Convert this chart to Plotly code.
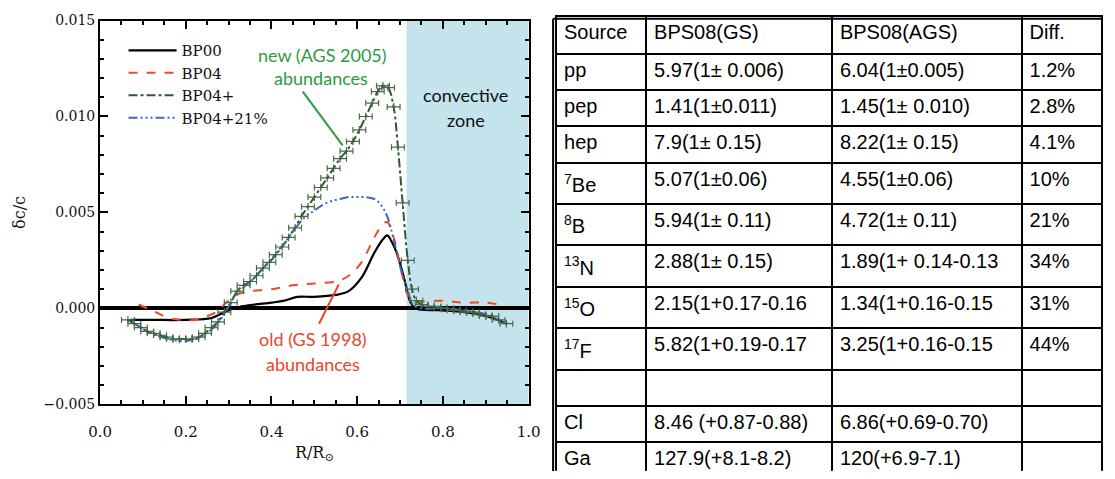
import plotly.graph_objects as go

# ---------------- data ----------------
bp00_x = [0.07, 0.12, 0.20, 0.26, 0.29, 0.31, 0.33, 0.36, 0.40, 0.43, 0.46, 0.50, 0.55, 0.58, 0.61,
          0.64, 0.66, 0.67, 0.68, 0.692, 0.708, 0.723, 0.735, 0.80, 0.85, 0.90, 0.95]
bp00_y = [-0.0006, -0.0006, -0.0006, -0.0005, -0.0002, 0.0000, 0.0001, 0.0002, 0.0003, 0.0004, 0.0006,
          0.0006, 0.0007, 0.0009, 0.0016, 0.0029, 0.0036, 0.0038, 0.0035, 0.0029, 0.0017, 0.0004,
          0.0000, -0.0001, -0.0002, -0.0004, -0.0008]

bp04_x = [0.09, 0.11, 0.13, 0.16, 0.19, 0.22, 0.25, 0.27, 0.29, 0.31, 0.33, 0.35, 0.40, 0.45, 0.50,
          0.55, 0.58, 0.61, 0.64, 0.66, 0.67, 0.685, 0.70, 0.71, 0.72, 0.73, 0.80, 0.85, 0.90, 0.93]
bp04_y = [0.0002, 0.0000, -0.0002, -0.0005, -0.0006, -0.0006, -0.0004, -0.0002, 0.0002, 0.0006, 0.0008,
          0.0009, 0.0010, 0.0012, 0.0013, 0.0014, 0.0017, 0.0024, 0.0037, 0.0044, 0.0045, 0.0037,
          0.0022, 0.0013, 0.0006, 0.0004, 0.0004, 0.0003, 0.0003, 0.0002]

bp04p_x = [0.065, 0.080, 0.095, 0.110, 0.125, 0.140, 0.155, 0.170, 0.185, 0.200, 0.215, 0.230, 0.245,
           0.260, 0.275, 0.290, 0.305, 0.320, 0.335, 0.350, 0.365, 0.380, 0.395, 0.410, 0.425, 0.440,
           0.455, 0.470, 0.485, 0.500, 0.515, 0.530, 0.545, 0.560, 0.575, 0.590, 0.605, 0.620, 0.635,
           0.648, 0.660, 0.672, 0.685, 0.695, 0.706, 0.718, 0.728, 0.738, 0.750, 0.765, 0.780, 0.795,
           0.810, 0.825, 0.840, 0.855, 0.870, 0.885, 0.900, 0.915, 0.930, 0.948]
bp04p_y = [-0.0006, -0.0008, -0.0010, -0.0012, -0.0013, -0.0014, -0.0015, -0.0016, -0.0016, -0.0016,
           -0.0016, -0.0015, -0.0013, -0.0010, -0.0007, -0.0002, 0.0003, 0.0009, 0.0012, 0.0014,
           0.0017, 0.0021, 0.0024, 0.0028, 0.0032, 0.0037, 0.0042, 0.0048, 0.0053, 0.0058, 0.0063,
           0.0068, 0.0073, 0.0078, 0.0082, 0.0087, 0.0093, 0.0100, 0.0107, 0.0113, 0.0116, 0.0115,
           0.0105, 0.0084, 0.0055, 0.0025, 0.0010, 0.0004, 0.0002, 0.0001, 0.0001, 0.0000, 0.0000,
           -0.0001, -0.0001, -0.0002, -0.0002, -0.0003, -0.0004, -0.0004, -0.0006, -0.0008]
bp04p_xerr = 0.015
bp04p_yerr = 0.0002

bp21_x = [0.08, 0.12, 0.16, 0.20, 0.24, 0.27, 0.29, 0.31, 0.33, 0.36, 0.40, 0.43, 0.46, 0.48, 0.50,
          0.52, 0.54, 0.56, 0.58, 0.60, 0.62, 0.64, 0.655, 0.67, 0.685, 0.70, 0.72, 0.73, 0.75, 0.80,
          0.85, 0.90, 0.95]
bp21_y = [-0.0008, -0.0013, -0.0016, -0.0017, -0.0014, -0.0009, -0.0003, 0.0005, 0.0010, 0.0016, 0.0026,
          0.0034, 0.0043, 0.0048, 0.0051, 0.0054, 0.0056, 0.0057, 0.0058, 0.0058, 0.0058, 0.0057,
          0.0054, 0.0048, 0.0036, 0.0022, 0.0008, 0.0002, 0.0000, 0.0000, -0.0001, -0.0003, -0.0008]

cz_start = 0.715

x_ticks = [0.0, 0.2, 0.4, 0.6, 0.8, 1.0]
x_ticklabels = ["0.0", "0.2", "0.4", "0.6", "0.8", "1.0"]
y_ticks = [-0.005, 0.0, 0.005, 0.010, 0.015]
y_ticklabels = ["\u22120.005", "0.000", "0.005", "0.010", "0.015"]

# table
col_source = ["pp", "pep", "hep", "<sup>7</sup>Be", "<sup>8</sup>B", "<sup>13</sup>N", "<sup>15</sup>O",
              "<sup>17</sup>F", "", "Cl", "Ga"]
col_gs = ["5.97(1\u00b1 0.006)", "1.41(1\u00b10.011)", "7.9(1\u00b1 0.15)", "5.07(1\u00b10.06)",
          "5.94(1\u00b1 0.11)", "2.88(1\u00b1 0.15)", "2.15(1+0.17-0.16", "5.82(1+0.19-0.17", "",
          "8.46 (+0.87-0.88)", "127.9(+8.1-8.2)"]
col_ags = ["6.04(1\u00b10.005)", "1.45(1\u00b1 0.010)", "8.22(1\u00b1 0.15)", "4.55(1\u00b10.06)",
           "4.72(1\u00b1 0.11)", "1.89(1+ 0.14-0.13", "1.34(1+0.16-0.15", "3.25(1+0.16-0.15", "",
           "6.86(+0.69-0.70)", "120(+6.9-7.1)"]
col_diff = ["1.2%", "2.8%", "4.1%", "10%", "21%", "34%", "31%", "44%", "", "", ""]
headers = ["Source", "BPS08(GS)", "BPS08(AGS)", "Diff."]

# ---------------- figure ----------------
W, H = 1115, 479
serif = "DejaVu Serif"

fig = go.Figure()

fig.add_trace(go.Scatter(x=bp00_x, y=bp00_y, mode="lines", name="BP00",
                         line=dict(color="black", width=2.2), line_shape="spline"))
fig.add_trace(go.Scatter(x=bp04_x, y=bp04_y, mode="lines", name="BP04",
                         line=dict(color="#ee4a24", width=2, dash="dash"), line_shape="spline"))
fig.add_trace(go.Scatter(x=bp04p_x, y=bp04p_y, mode="lines", name="BP04+",
                         line=dict(color="#2f5a30", width=2, dash="dashdot"), line_shape="spline"))
fig.add_trace(go.Scatter(x=bp21_x, y=bp21_y, mode="lines", name="BP04+21%",
                         line=dict(color="#3868c0", width=2,
                                   dash="9px,3px,2px,3px,2px,3px,2px,3px"), line_shape="spline"))
fig.add_trace(go.Scatter(x=bp04p_x, y=bp04p_y, mode="markers", showlegend=False,
                         marker=dict(size=2, color="#3d5a40"),
                         error_x=dict(type="constant", value=bp04p_xerr, color="#4a6a4a",
                                      thickness=1.2, width=3),
                         error_y=dict(type="constant", value=bp04p_yerr, color="#4a6a4a",
                                      thickness=1.2, width=0)))

fig.add_trace(go.Table(
    domain=dict(x=[556 / W, 1.0], y=[0.0, 1 - 8 / H]),
    columnwidth=[94, 194, 198, 84],
    header=dict(values=headers, height=38, align="left",
                fill_color="white", line=dict(color="black", width=2),
                font=dict(family="Liberation Sans", size=20, color="black")),
    cells=dict(values=[col_source, col_gs, col_ags, col_diff], height=36.3, align="left",
               fill_color="white", line=dict(color="black", width=2),
               font=dict(family="Liberation Sans", size=20, color="black")),
))

shapes = [
    dict(type="rect", xref="x", yref="y", x0=cz_start, x1=1.0, y0=-0.005, y1=0.015,
         fillcolor="#c4e3ed", line=dict(width=0), layer="below"),
    dict(type="line", xref="x", yref="y", x0=0.473, y0=0.0113, x1=0.566, y1=0.0085,
         line=dict(color="#2e9a3e", width=2)),
    dict(type="line", xref="x", yref="y", x0=0.511, y0=-0.0008, x1=0.557, y1=0.00125,
         line=dict(color="#e8442a", width=2)),
    dict(type="line", xref="paper", yref="paper", x0=553 / W, x1=553 / W, y0=0, y1=1 - 11 / H,
         line=dict(color="black", width=2)),
    dict(type="line", xref="paper", yref="paper", x0=553 / W, x1=1.0, y0=1 - 11 / H, y1=1 - 11 / H,
         line=dict(color="black", width=2)),
]

ann_font = "Lato"
annotations = [
    dict(x=0.52, y=0.0132, xref="x", yref="y", text="new (AGS 2005)", showarrow=False,
         font=dict(family=ann_font, size=18, color="#2e9a3e")),
    dict(x=0.515, y=0.0120, xref="x", yref="y", text="abundances", showarrow=False,
         font=dict(family=ann_font, size=18, color="#2e9a3e")),
    dict(x=0.853, y=0.0111, xref="x", yref="y", text="convective", showarrow=False,
         font=dict(family=ann_font, size=18, color="#111111")),
    dict(x=0.853, y=0.0098, xref="x", yref="y", text="zone", showarrow=False,
         font=dict(family=ann_font, size=18, color="#111111")),
    dict(x=0.497, y=-0.0016, xref="x", yref="y", text="old (GS 1998)", showarrow=False,
         font=dict(family=ann_font, size=18, color="#e8442a")),
    dict(x=0.497, y=-0.0029, xref="x", yref="y", text="abundances", showarrow=False,
         font=dict(family=ann_font, size=18, color="#e8442a")),
]

fig.update_layout(
    width=W, height=H,
    margin=dict(l=0, r=0, t=0, b=0),
    paper_bgcolor="white", plot_bgcolor="white",
    shapes=shapes, annotations=annotations,
    showlegend=True,
    legend=dict(x=114 / W, y=1 - 27 / H, xanchor="left", yanchor="top",
                bgcolor="rgba(0,0,0,0)", borderwidth=0, itemwidth=48, tracegroupgap=0,
                font=dict(family=serif, size=15, color="#111111")),
    xaxis=dict(domain=[90 / W, 528 / W], range=[0, 1], tickvals=x_ticks, ticktext=x_ticklabels,
               ticks="inside", ticklen=8, tickwidth=2, tickcolor="black",
               showline=True, linewidth=2, linecolor="black", mirror="allticks",
               showgrid=False, zeroline=False, ticklabelstandoff=13,
               minor=dict(dtick=0.05, ticks="inside", ticklen=4, tickwidth=1.5, tickcolor="black"),
               tickfont=dict(family=serif, size=15, color="#111111"),
               title=dict(text="R/R<sub>\u2299</sub>", font=dict(family=serif, size=16, color="#111111"),
                          standoff=6)),
    yaxis=dict(domain=[1 - 410 / H, 1 - 13 / H], range=[-0.005, 0.015], tickvals=y_ticks,
               ticktext=y_ticklabels,
               ticks="inside", ticklen=8, tickwidth=2, tickcolor="black",
               showline=True, linewidth=2, linecolor="black", mirror="allticks",
               showgrid=False, zeroline=True, zerolinewidth=4, zerolinecolor="black",
               minor=dict(dtick=0.001, ticks="inside", ticklen=4, tickwidth=1.5, tickcolor="black"),
               tickfont=dict(family=serif, size=14, color="#111111"),
               title=dict(text="\u03b4c/c", font=dict(family=serif, size=16, color="#111111"),
                          standoff=14)),
)

fig.write_html("out.html")
